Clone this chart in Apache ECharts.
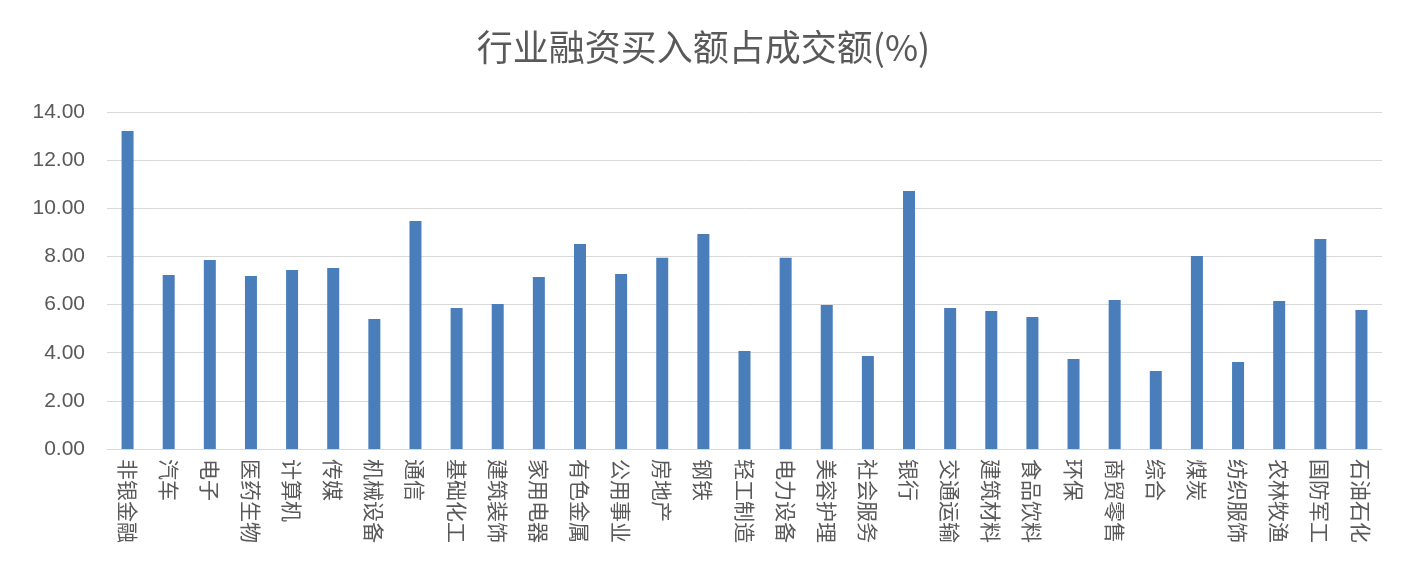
<!DOCTYPE html>
<html><head><meta charset="utf-8">
<script src="https://cdn.jsdelivr.net/npm/echarts@6/dist/echarts.min.js"></script>
<style>html,body{margin:0;padding:0;background:#fff}#c{width:1407px;height:585px}</style>
</head><body><div id="c"></div>
<script>
var categories = ['非银金融','汽车','电子','医药生物','计算机','传媒','机械设备','通信','基础化工','建筑装饰','家用电器','有色金属','公用事业','房地产','钢铁','轻工制造','电力设备','美容护理','社会服务','银行','交通运输','建筑材料','食品饮料','环保','商贸零售','综合','煤炭','纺织服饰','农林牧渔','国防军工','石油石化'];
var ratios = [13.21,7.23,7.85,7.19,7.44,7.52,5.40,9.47,5.86,6.02,7.15,8.52,7.27,7.94,8.93,4.07,7.94,5.98,3.86,10.72,5.86,5.73,5.48,3.74,6.19,3.24,8.02,3.61,6.15,8.72,5.77];

var chart = echarts.init(document.getElementById('c'));
chart.setOption({
  animation: false,
  title: {text: '行业融资买入额占成交额(%)', left: 'center', top: 24,
    textStyle: {fontFamily: 'Noto Sans CJK SC', fontSize: 36, fontWeight: 'normal', color: '#595959'}},
  grid: {left: 107, right: 25, top: 112, bottom: 136},
  xAxis: {type: 'category', data: categories,
    axisLine: {lineStyle: {color: '#d9d9d9'}}, axisTick: {show: false},
    axisLabel: {rotate: -90, interval: 0, fontSize: 21, color: '#595959', fontFamily: 'Noto Sans CJK SC', margin: 10}},
  yAxis: {type: 'value', min: 0, max: 14, interval: 2,
    axisLabel: {formatter: function (v) { return v.toFixed(2); }, fontSize: 21, color: '#595959', fontFamily: 'Liberation Sans', margin: 22},
    splitLine: {lineStyle: {color: '#d9d9d9'}}},
  series: [{type: 'bar', data: ratios, barWidth: 12, itemStyle: {color: '#4a7ebb'}}]
});
</script></body></html>
